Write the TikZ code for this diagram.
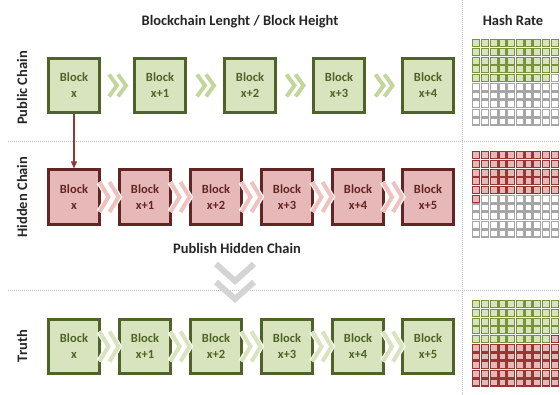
\documentclass[tikz,border=0pt]{standalone}
\usepackage{fontspec}
\setmainfont{Carlito}
\usetikzlibrary{calc,arrows.meta}
\definecolor{gfill}{HTML}{D7E4BD}
\definecolor{gdark}{HTML}{4F6228}
\definecolor{gmid}{HTML}{77933C}
\definecolor{gchev}{HTML}{C3D69B}
\definecolor{gchevlt}{HTML}{D7E4BD}
\definecolor{rfill}{HTML}{E6B9B8}
\definecolor{rdark}{HTML}{632523}
\definecolor{rmid}{HTML}{953735}
\definecolor{rchev}{HTML}{EFC2C0}
\definecolor{sepcol}{HTML}{BFBFBF}
\definecolor{cellgray}{HTML}{A6A6A6}
\definecolor{ink}{HTML}{262626}
\definecolor{downchev}{HTML}{D4D4D4}

\begin{document}
\begin{tikzpicture}[x=1pt,y=-1pt,
  blk/.style={draw, line width=2.6pt, minimum width=51.5pt, minimum height=54.5pt,
    inner sep=0pt, align=center, font=\bfseries\fontsize{12.5}{16}\selectfont},
  gblk/.style={blk, fill=gfill, draw=gdark, text=gdark},
  rblk/.style={blk, fill=rfill, draw=rdark, text=rdark},
  lbl/.style={text=ink, font=\bfseries\fontsize{14.5}{16}\selectfont, inner sep=0pt},
  sepline/.style={sepcol, line width=0.8pt, dash pattern=on 1pt off 1pt},
  gcell/.style={fill=gfill, draw=gmid, line width=1.2pt},
  rcell/.style={fill=rfill, draw=rmid, line width=1.2pt},
  wcell/.style={fill=white, draw=cellgray, line width=1.2pt},
  pics/smallchev/.style={code={
    \draw[line width=4pt] (-9,-11) -- (-1,0) -- (-9,11);
    \draw[line width=4pt] (0,-11) -- (8,0) -- (0,11);}},
  pics/bigchev/.style={code={
    \draw (-10,-15) -- (-1,0) -- (-10,15);
    \draw (0,-15) -- (9,0) -- (0,15);}}
]
\useasboundingbox (0,0) rectangle (560,395);

% separators
\draw[sepline] (462,0) -- (462,395);
\draw[sepline] (8,141) -- (560,141);
\draw[sepline] (8,290) -- (560,290);

% headings
\node[lbl] (title) at (240,22) {Blockchain Lenght / Block Height};
\node[lbl] (hash) at (513,20) {Hash Rate};
\node[lbl, rotate=90] (lpub) at (22,88) {Public Chain};
\node[lbl, rotate=90] (lhid) at (22,197) {Hidden Chain};
\node[lbl, rotate=90] (ltru) at (22,346) {Truth};
\node[lbl] (publish) at (237,248) {Publish Hidden Chain};

% publishing chevron
\draw[downchev, line width=6pt] (216,264) -- (235,281) -- (254,264);
\draw[downchev, line width=6pt] (216,282) -- (235,299) -- (254,282);

% public chain
\node[gblk] (p0) at (74,85.5) {Block\\x};
\node[gblk] (p1) at (160,85.5) {Block\\x+1};
\node[gblk] (p2) at (250,85.5) {Block\\x+2};
\node[gblk] (p3) at (339,85.5) {Block\\x+3};
\node[gblk] (p4) at (428,85.5) {Block\\x+4};
\foreach \a/\b in {p0/p1,p1/p2,p2/p3,p3/p4}
  \pic[draw=gchev] at ($(\a.east)!0.5!(\b.west)+(1,0)$) {smallchev};

% hidden chain
\node[rblk] (h0) at (74,197) {Block\\x};
\node[rblk] (h1) at (145,197) {Block\\x+1};
\node[rblk] (h2) at (216,197) {Block\\x+2};
\node[rblk] (h3) at (287,197) {Block\\x+3};
\node[rblk] (h4) at (358,197) {Block\\x+4};
\node[rblk] (h5) at (428,197) {Block\\x+5};
\foreach \a/\b in {h0/h1,h1/h2,h2/h3,h3/h4,h4/h5}{
  \pic[draw=white, line width=6.5pt] at ($(\a.east)!0.5!(\b.west)$) {bigchev};
  \pic[draw=rchev, line width=4pt] at ($(\a.east)!0.5!(\b.west)$) {bigchev};
}

% truth
\node[gblk] (t0) at (74,346.5) {Block\\x};
\node[gblk] (t1) at (145,346.5) {Block\\x+1};
\node[gblk] (t2) at (216,346.5) {Block\\x+2};
\node[gblk] (t3) at (287,346.5) {Block\\x+3};
\node[gblk] (t4) at (358,346.5) {Block\\x+4};
\node[gblk] (t5) at (428,346.5) {Block\\x+5};
\foreach \a/\b in {t0/t1,t1/t2,t2/t3,t3/t4,t4/t5}{
  \pic[draw=white, line width=6.5pt] at ($(\a.east)!0.5!(\b.west)$) {bigchev};
  \pic[draw=gchevlt, line width=4pt] at ($(\a.east)!0.5!(\b.west)$) {bigchev};
}

% fork from the public chain into the hidden chain
\draw[rmid, line width=1.2pt, -{Triangle[length=7pt,width=6pt]}] (p0.south) -- (h0.north);

% hash-rate grids
\foreach \i in {0,...,99}{
  \pgfmathtruncatemacro\r{int(\i/10)}
  \pgfmathtruncatemacro\c{mod(\i,10)}
  \ifnum\i<49 \def\stA{gcell}\else\def\stA{wcell}\fi
  \ifnum\i<51 \def\stB{rcell}\else\def\stB{wcell}\fi
  \ifnum\i<49 \def\stC{gcell}\else\def\stC{rcell}\fi
  \draw[\stA] (472.8+\c*8.7, 39.8+\r*8.7) rectangle +(7,7);
  \draw[\stB] (472.8+\c*8.7, 151.8+\r*8.7) rectangle +(7,7);
  \draw[\stC] (472.8+\c*8.7, 300.8+\r*8.7) rectangle +(7,7);
}
\end{tikzpicture}
\end{document}
